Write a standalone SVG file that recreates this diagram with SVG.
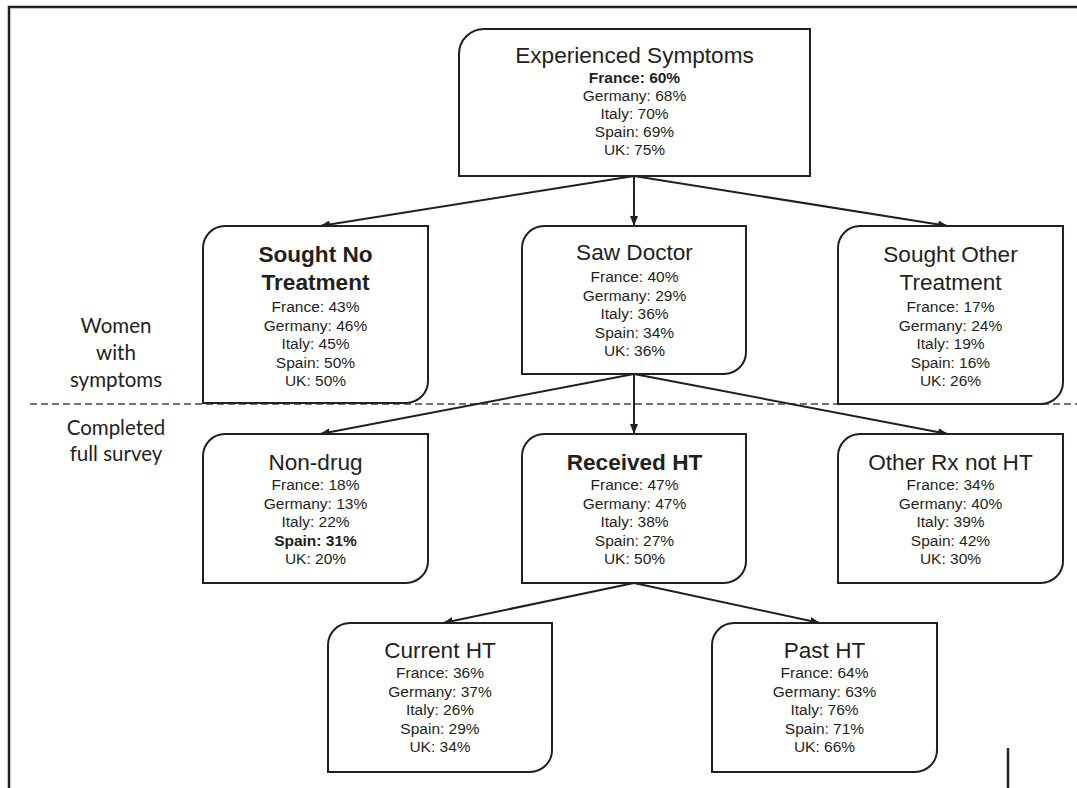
<svg xmlns="http://www.w3.org/2000/svg" width="1077" height="788" viewBox="0 0 1077 788">
<defs>
<marker id="ah" viewBox="0 0 10 8" refX="10" refY="4" markerWidth="10" markerHeight="8" markerUnits="userSpaceOnUse" orient="auto">
<path d="M0,0 L10,4 L0,8 Z" fill="#231f20"/>
</marker>
<style>
.box{fill:#fff;stroke:#231f20;stroke-width:2}
.t{font-family:"Liberation Sans",Arial,sans-serif;fill:#231f20;text-anchor:middle}
.h{font-size:22.6px}
.hb{font-size:22.6px;font-weight:bold}
.s{font-size:15.5px}
.sb{font-size:15.5px;font-weight:bold}
.lab{font-family:Lato,"Open Sans",sans-serif;font-size:20.5px;fill:#231f20;text-anchor:middle}
.c{stroke:#231f20;stroke-width:2;fill:none;marker-end:url(#ah)}
</style>
</defs>
<rect width="1077" height="788" fill="#fff"/>
<g id="frame" stroke="#231f20" stroke-width="2.5" fill="none">
<path d="M9,788 V7 H1077"/>
<path d="M1008,748 V788"/>
</g>
<line x1="30" y1="404" x2="1077" y2="404" stroke="#444" stroke-width="1.5" stroke-dasharray="7,4"/>
<g id="labels">
<text class="lab" x="116" y="333">Women</text>
<text class="lab" x="116" y="360">with</text>
<text class="lab" x="116" y="387">symptoms</text>
<text class="lab" x="116" y="435">Completed</text>
<text class="lab" x="116" y="461">full survey</text>
</g>
<g id="connectors">
<line class="c" x1="634" y1="176" x2="320" y2="226"/>
<line class="c" x1="634" y1="176" x2="634" y2="226"/>
<line class="c" x1="634" y1="176" x2="948" y2="226"/>
<line class="c" x1="634" y1="374" x2="320" y2="434"/>
<line class="c" x1="634" y1="374" x2="634" y2="434"/>
<line class="c" x1="634" y1="374" x2="948" y2="434"/>
<line class="c" x1="634" y1="583" x2="443" y2="623"/>
<line class="c" x1="634" y1="583" x2="820" y2="623"/>
</g>
<g id="experienced">
<path class="box" d="M459,54 A25,25 0 0 1 484,29 H810 V176 H459 Z"/>
<text class="t h" x="634.5" y="63">Experienced Symptoms</text>
<text class="t sb" x="634.5" y="83">France: 60%</text>
<text class="t s" x="634.5" y="101">Germany: 68%</text>
<text class="t s" x="634.5" y="119">Italy: 70%</text>
<text class="t s" x="634.5" y="137">Spain: 69%</text>
<text class="t s" x="634.5" y="155">UK: 75%</text>
</g>
<g id="soughtno">
<path class="box" d="M203,248 A22,22 0 0 1 225,226 H428 V381 A22,22 0 0 1 406,403 H203 Z"/>
<text class="t hb" x="315.5" y="262">Sought No</text>
<text class="t hb" x="315.5" y="290">Treatment</text>
<text class="t s" x="315.5" y="312">France: 43%</text>
<text class="t s" x="315.5" y="330.5">Germany: 46%</text>
<text class="t s" x="315.5" y="349">Italy: 45%</text>
<text class="t s" x="315.5" y="367.5">Spain: 50%</text>
<text class="t s" x="315.5" y="386">UK: 50%</text>
</g>
<g id="sawdoctor">
<path class="box" d="M522,248 A22,22 0 0 1 544,226 H746 V352 A22,22 0 0 1 724,374 H522 Z"/>
<text class="t h" x="634.5" y="260">Saw Doctor</text>
<text class="t s" x="634.5" y="282">France: 40%</text>
<text class="t s" x="634.5" y="300.5">Germany: 29%</text>
<text class="t s" x="634.5" y="319">Italy: 36%</text>
<text class="t s" x="634.5" y="337.5">Spain: 34%</text>
<text class="t s" x="634.5" y="356">UK: 36%</text>
</g>
<g id="soughtother">
<path class="box" d="M838,248 A22,22 0 0 1 860,226 H1063 V382 A22,22 0 0 1 1041,404 H838 Z"/>
<text class="t h" x="950.5" y="262">Sought Other</text>
<text class="t h" x="950.5" y="290">Treatment</text>
<text class="t s" x="950.5" y="312">France: 17%</text>
<text class="t s" x="950.5" y="330.5">Germany: 24%</text>
<text class="t s" x="950.5" y="349">Italy: 19%</text>
<text class="t s" x="950.5" y="367.5">Spain: 16%</text>
<text class="t s" x="950.5" y="386">UK: 26%</text>
</g>
<g id="nondrug">
<path class="box" d="M203,456 A22,22 0 0 1 225,434 H428 V561 A22,22 0 0 1 406,583 H203 Z"/>
<text class="t h" x="315.5" y="470">Non-drug</text>
<text class="t s" x="315.5" y="490">France: 18%</text>
<text class="t s" x="315.5" y="508.5">Germany: 13%</text>
<text class="t s" x="315.5" y="527">Italy: 22%</text>
<text class="t sb" x="315.5" y="545.5">Spain: 31%</text>
<text class="t s" x="315.5" y="564">UK: 20%</text>
</g>
<g id="receivedht">
<path class="box" d="M522,456 A22,22 0 0 1 544,434 H746 V561 A22,22 0 0 1 724,583 H522 Z"/>
<text class="t hb" x="634.5" y="470">Received HT</text>
<text class="t s" x="634.5" y="490">France: 47%</text>
<text class="t s" x="634.5" y="508.5">Germany: 47%</text>
<text class="t s" x="634.5" y="527">Italy: 38%</text>
<text class="t s" x="634.5" y="545.5">Spain: 27%</text>
<text class="t s" x="634.5" y="564">UK: 50%</text>
</g>
<g id="otherrx">
<path class="box" d="M838,456 A22,22 0 0 1 860,434 H1063 V561 A22,22 0 0 1 1041,583 H838 Z"/>
<text class="t h" x="950.5" y="470">Other Rx not HT</text>
<text class="t s" x="950.5" y="490">France: 34%</text>
<text class="t s" x="950.5" y="508.5">Germany: 40%</text>
<text class="t s" x="950.5" y="527">Italy: 39%</text>
<text class="t s" x="950.5" y="545.5">Spain: 42%</text>
<text class="t s" x="950.5" y="564">UK: 30%</text>
</g>
<g id="currentht">
<path class="box" d="M328,645 A22,22 0 0 1 350,623 H552 V750 A22,22 0 0 1 530,772 H328 Z"/>
<text class="t h" x="440" y="658">Current HT</text>
<text class="t s" x="440" y="678">France: 36%</text>
<text class="t s" x="440" y="696.5">Germany: 37%</text>
<text class="t s" x="440" y="715">Italy: 26%</text>
<text class="t s" x="440" y="733.5">Spain: 29%</text>
<text class="t s" x="440" y="752">UK: 34%</text>
</g>
<g id="pastht">
<path class="box" d="M712,645 A22,22 0 0 1 734,623 H937 V750 A22,22 0 0 1 915,772 H712 Z"/>
<text class="t h" x="824.5" y="658">Past HT</text>
<text class="t s" x="824.5" y="678">France: 64%</text>
<text class="t s" x="824.5" y="696.5">Germany: 63%</text>
<text class="t s" x="824.5" y="715">Italy: 76%</text>
<text class="t s" x="824.5" y="733.5">Spain: 71%</text>
<text class="t s" x="824.5" y="752">UK: 66%</text>
</g>
</svg>
